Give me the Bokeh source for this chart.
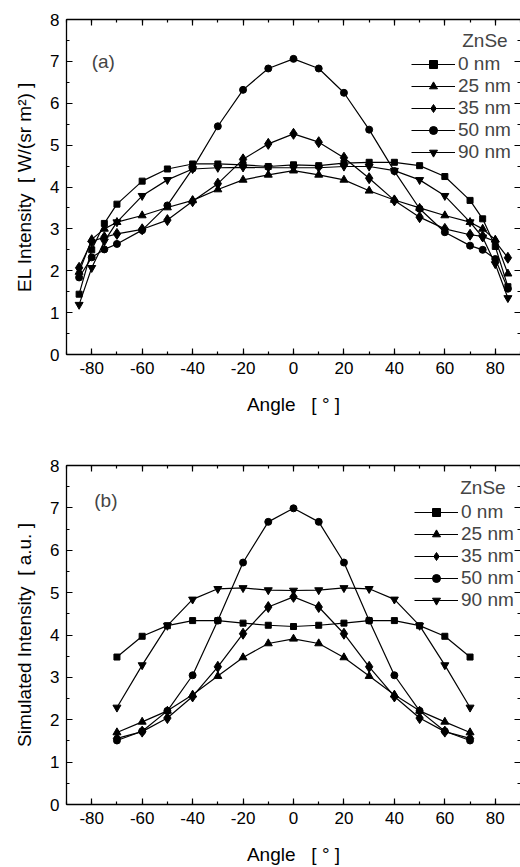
from bokeh.plotting import figure
from bokeh.layouts import column
from bokeh.models import (LinearAxis, SingleIntervalTicker, Range1d, Legend, LegendItem,
                          Label, NumeralTickFormatter)
from bokeh.embed import file_html
from bokeh.resources import INLINE

FONT = "Liberation Sans"
NBSP = "\u00a0"

# (a) measured electroluminescence vs. emission angle
angle_a = [-85, -80, -75, -70, -60, -50, -40, -30, -20, -10, 0,
           10, 20, 30, 40, 50, 60, 70, 75, 80, 85]
el_0nm = [1.44, 2.50, 3.13, 3.59, 4.14, 4.43, 4.55, 4.55, 4.53, 4.49, 4.53,
          4.51, 4.57, 4.59, 4.59, 4.51, 4.25, 3.68, 3.24, 2.58, 1.62]
el_25nm = [1.97, 2.75, 3.00, 3.16, 3.32, 3.51, 3.68, 3.94, 4.17, 4.29, 4.39,
           4.29, 4.17, 3.91, 3.69, 3.50, 3.32, 3.16, 3.00, 2.74, 1.93]
el_35nm = [2.07, 2.70, 2.80, 2.88, 2.99, 3.21, 3.66, 4.08, 4.66, 5.03, 5.27,
           5.07, 4.70, 4.21, 3.68, 3.28, 3.00, 2.86, 2.82, 2.70, 2.31]
el_50nm = [1.84, 2.32, 2.51, 2.64, 2.97, 3.56, 4.44, 5.45, 6.32, 6.83, 7.06,
           6.83, 6.25, 5.37, 4.38, 3.48, 2.92, 2.60, 2.50, 2.28, 1.57]
el_90nm = [1.19, 2.07, 2.70, 3.16, 3.79, 4.17, 4.43, 4.46, 4.47, 4.46, 4.46,
           4.46, 4.49, 4.49, 4.39, 4.17, 3.79, 3.16, 2.80, 2.16, 1.35]

# (b) simulated intensity vs. angle
angle_b = [-70, -60, -50, -40, -30, -20, -10, 0, 10, 20, 30, 40, 50, 60, 70]
sim_0nm = [3.48, 3.97, 4.22, 4.34, 4.34, 4.28, 4.23, 4.20, 4.23, 4.28, 4.34, 4.34, 4.22, 3.97, 3.48]
sim_25nm = [1.70, 1.95, 2.21, 2.59, 3.03, 3.47, 3.80, 3.91, 3.80, 3.47, 3.03, 2.59, 2.21, 1.95, 1.70]
sim_35nm = [1.56, 1.72, 2.04, 2.55, 3.25, 4.03, 4.66, 4.90, 4.66, 4.03, 3.25, 2.55, 2.04, 1.72, 1.56]
sim_50nm = [1.51, 1.73, 2.21, 3.05, 4.34, 5.71, 6.67, 6.99, 6.67, 5.71, 4.34, 3.05, 2.21, 1.73, 1.51]
sim_90nm = [2.29, 3.29, 4.22, 4.84, 5.09, 5.11, 5.06, 5.05, 5.06, 5.11, 5.09, 4.84, 4.22, 3.29, 2.29]

series_labels = ["0 nm", "25 nm", "35 nm", "50 nm", "90 nm"]
series_markers = [("square", 6), ("triangle", 8), ("diamond", 11),
                  ("circle", 7), ("inverted_triangle", 8)]


def frame_axis(ax, show_labels, show_line=True):
    ax.axis_line_color = "black" if show_line else None
    ax.axis_line_width = 1.3
    ax.major_tick_in = 6
    ax.major_tick_out = 0
    ax.minor_tick_in = 3
    ax.minor_tick_out = 0
    ax.major_tick_line_color = "black"
    ax.minor_tick_line_color = "black"
    ax.major_tick_line_width = 1.2
    ax.minor_tick_line_width = 1.2
    ax.formatter = NumeralTickFormatter(format="0")
    if show_labels:
        ax.major_label_text_font = FONT
        ax.major_label_text_font_size = "17px"
        ax.major_label_text_color = "black"
        ax.major_label_standoff = 7
        ax.axis_label_text_font = FONT
        ax.axis_label_text_font_size = "19px"
        ax.axis_label_text_font_style = "normal"
        ax.axis_label_text_color = "black"
    else:
        # mirrored frame side: ticks only, no numbers
        ax.major_label_text_font_size = "1px"
        ax.major_label_text_color = None
        ax.major_label_text_alpha = 0
        ax.major_label_standoff = 0


def panel(height, left, top, bottom, ylabel, tag, tag_xy, znse_xy, legend_xy, angles, series):
    p = figure(width=520, height=height, output_backend="svg", toolbar_location=None,
               x_range=Range1d(-90, 90), y_range=Range1d(0, 8),
               x_axis_location=None, y_axis_location=None,
               min_border_left=left, min_border_right=0,
               min_border_top=top, min_border_bottom=bottom)
    p.outline_line_color = None
    p.background_fill_color = "white"
    p.border_fill_color = "white"
    p.grid.visible = False

    xt = SingleIntervalTicker(interval=20, num_minor_ticks=2)
    yt = SingleIntervalTicker(interval=1, num_minor_ticks=2)

    bx = LinearAxis(ticker=xt, axis_label="Angle" + NBSP * 2 + " [ ° ]", axis_label_standoff=17)
    ly = LinearAxis(ticker=yt, axis_label=ylabel, axis_label_standoff=12)
    tx = LinearAxis(ticker=xt)
    ry = LinearAxis(ticker=yt)
    frame_axis(bx, True)
    frame_axis(ly, True)
    frame_axis(tx, False)
    frame_axis(ry, False, show_line=False)
    p.add_layout(bx, "below")
    p.add_layout(ly, "left")
    p.add_layout(tx, "above")
    p.add_layout(ry, "right")

    items = []
    for lab, (mk, sz), ys in zip(series_labels, series_markers, series):
        ln = p.line(angles, ys, line_color="black", line_width=1.2)
        sc = p.scatter(angles, ys, marker=mk, size=sz,
                       fill_color="black", line_color="black")
        items.append(LegendItem(label=lab, renderers=[ln, sc]))

    legend = Legend(items=items, location=legend_xy, margin=0, padding=0, spacing=0,
                    glyph_width=44, glyph_height=20, label_height=20, label_standoff=3,
                    label_text_font=FONT, label_text_font_size="19px",
                    background_fill_alpha=0, border_line_alpha=0)
    p.add_layout(legend)

    p.add_layout(Label(x=tag_xy[0], y=tag_xy[1], text=tag, text_font=FONT,
                       text_font_size="19px", text_align="left", text_baseline="middle"))
    p.add_layout(Label(x=znse_xy[0], y=znse_xy[1], text="ZnSe", text_font=FONT,
                       text_font_size="19px", text_align="right", text_baseline="middle"))
    return p


top = panel(432, 66, 19, 78, "EL Intensity" + NBSP + " [ W/(sr m²) ]", "(a)", (-80, 7.0), (84.9, 7.49),
            (345, 191), angle_a, [el_0nm, el_25nm, el_35nm, el_50nm, el_90nm])
bottom = panel(435, 62, 33, 63, "Simulated Intensity" + NBSP + " [ a.u. ]", "(b)", (-79, 7.18), (84.1, 7.48),
               (348, 193), angle_b, [sim_0nm, sim_25nm, sim_35nm, sim_50nm, sim_90nm])

layout = column(top, bottom, spacing=0)
open("out.html", "w").write(file_html(layout, INLINE))
